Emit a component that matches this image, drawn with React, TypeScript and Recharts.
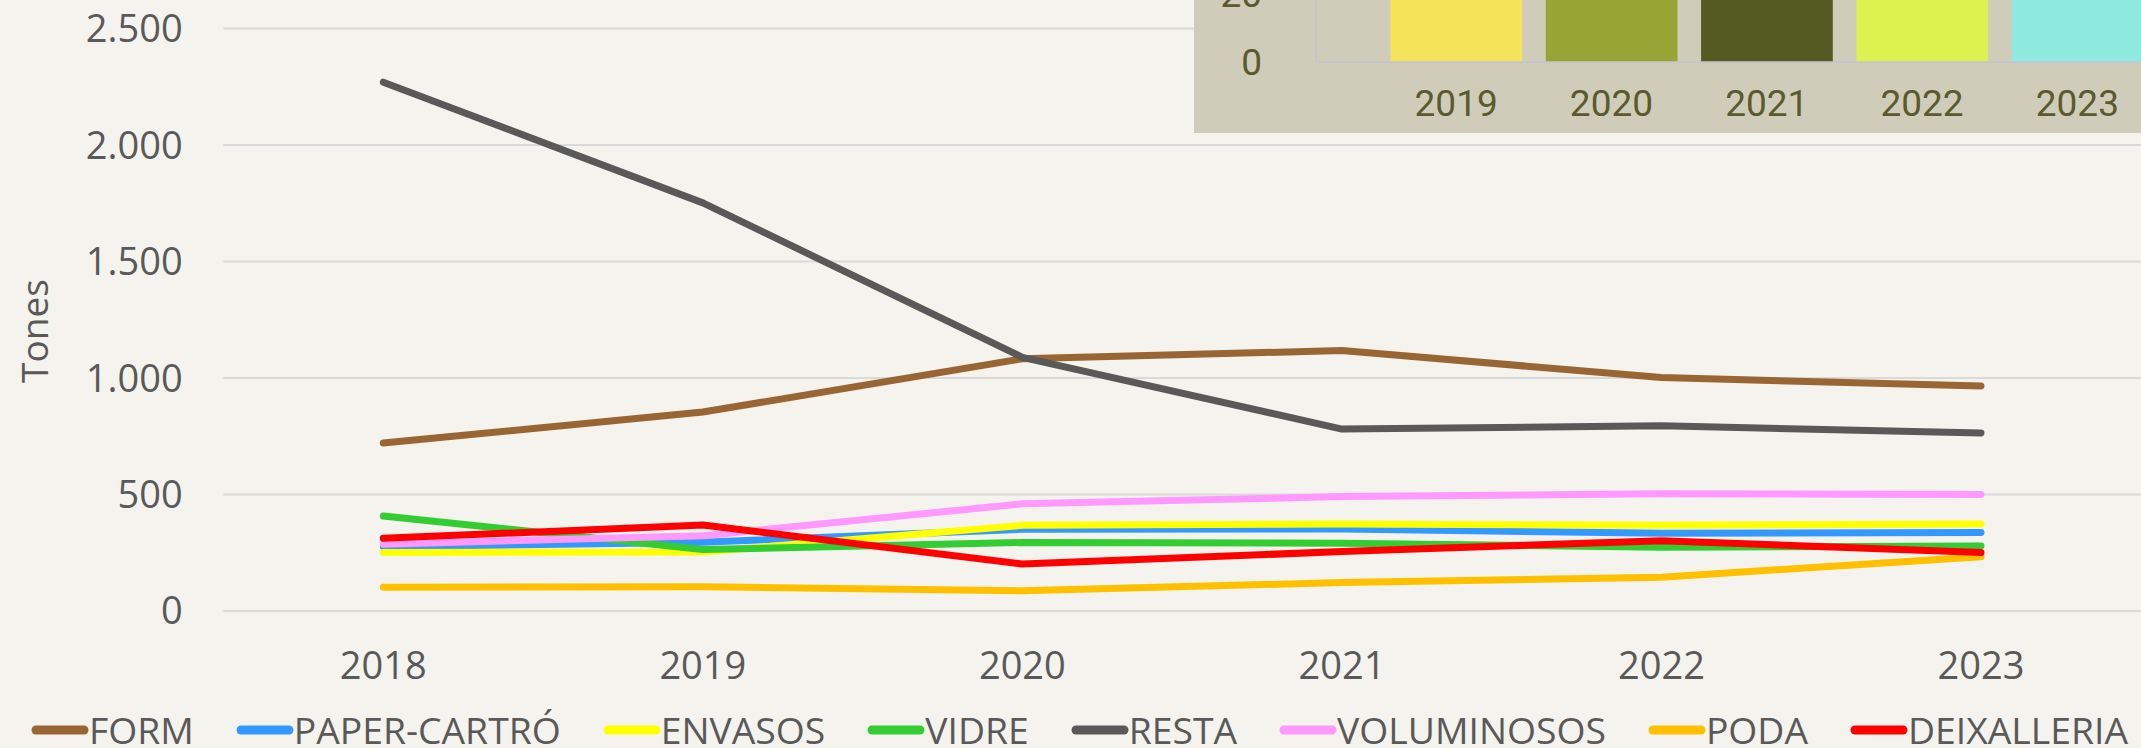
import { LineChart, Line, XAxis, YAxis, CartesianGrid, Legend, BarChart, Bar, Cell } from 'recharts'

const YEARS = ['2018', '2019', '2020', '2021', '2022', '2023']
const FORM = [721, 854, 1083, 1118, 1002, 966]
const PAPER_CARTRO = [276, 295, 351, 352, 334, 337]
const ENVASOS = [251, 253, 368, 373, 368, 373]
const VIDRE = [408, 264, 294, 291, 274, 279]
const RESTA = [2270, 1752, 1089, 781, 795, 764]
const VOLUMINOSOS = [287, 323, 460, 491, 503, 500]
const PODA = [102, 104, 87, 122, 145, 233]
const DEIXALLERIA = [312, 369, 202, 255, 302, 251]
const Y_TICKS = [0, 500, 1000, 1500, 2000, 2500]

// inset bar chart (top right, mostly cut off above the frame)
const INSET_YEARS = ['2019', '2020', '2021', '2022', '2023']
const INSET_VALUES = [42, 46, 44, 48, 45]
const INSET_COLORS = ['#F5E35A', '#98A535', '#545A22', '#DDF24F', '#8EEADF']
const INSET_TICKS = [0, 20, 40, 60, 80]

const SERIES = [
  { key: 'form', name: 'FORM', color: '#996633', values: FORM },
  { key: 'paper', name: 'PAPER-CARTRÓ', color: '#3399FF', values: PAPER_CARTRO },
  { key: 'envasos', name: 'ENVASOS', color: '#FFFF00', values: ENVASOS },
  { key: 'vidre', name: 'VIDRE', color: '#33CC33', values: VIDRE },
  { key: 'resta', name: 'RESTA', color: '#595959', values: RESTA },
  { key: 'voluminosos', name: 'VOLUMINOSOS', color: '#FF99FF', values: VOLUMINOSOS },
  { key: 'poda', name: 'PODA', color: '#FFC000', values: PODA },
  { key: 'deixalleria', name: 'DEIXALLERIA', color: '#FF0000', values: DEIXALLERIA },
]

const data = YEARS.map((year, i) => {
  const row: Record<string, string | number> = { year }
  SERIES.forEach((s) => {
    row[s.key] = s.values[i]
  })
  return row
})

const insetData = INSET_YEARS.map((year, i) => ({ year, value: INSET_VALUES[i] }))

const fmt = (v: number) => String(v).replace(/\B(?=(\d{3})+(?!\d))/g, '.')

const TEXT = '#595959'

function LegendRow() {
  return (
    <div
      style={{
        display: 'flex',
        alignItems: 'center',
        height: 40,
        marginTop: 10,
        paddingLeft: 31,
        gap: 42,
        fontFamily: 'Open Sans',
        fontSize: 37.3,
        lineHeight: '40px',
        color: TEXT,
        whiteSpace: 'nowrap',
      }}
    >
      {SERIES.map((s) => (
        <div key={s.key} style={{ display: 'flex', alignItems: 'center' }}>
          <svg width={58} height={12}>
            <line x1={5} y1={6} x2={53} y2={6} stroke={s.color} strokeWidth={9} strokeLinecap="round" />
          </svg>
          <span>{s.name}</span>
        </div>
      ))}
    </div>
  )
}

function TonesLabel() {
  return (
    <text
      x={33}
      y={331}
      transform="rotate(-90, 33, 331)"
      textAnchor="middle"
      dominantBaseline="central"
      fill={TEXT}
      fontSize={37}
      fontFamily="Open Sans"
    >
      Tones
    </text>
  )
}

export default function App() {
  return (
    <div
      style={{
        position: 'fixed',
        left: 0,
        top: 0,
        width: 2141,
        height: 748,
        overflow: 'hidden',
        background: '#F4F3ED',
      }}
    >
      <div style={{ position: 'absolute', left: 0, top: 0 }}>
        <LineChart width={2141} height={748} data={data} margin={{ top: 28.6, right: 0, bottom: 0, left: 0 }}>
          <CartesianGrid vertical={false} stroke="#DADADA" strokeWidth={2} />
          <XAxis
            dataKey="year"
            scale="point"
            padding={{ left: 160, right: 160 }}
            axisLine={false}
            tickLine={false}
            tickSize={0}
            tickMargin={41}
            height={89}
            tick={{ fill: TEXT, fontSize: 38, fontFamily: 'Open Sans' }}
          />
          <YAxis
            domain={[0, 2500]}
            ticks={Y_TICKS}
            tickFormatter={fmt}
            axisLine={false}
            tickLine={false}
            tickSize={0}
            tickMargin={40.6}
            width={223.3}
            tick={{ fill: TEXT, fontSize: 38, fontFamily: 'Open Sans' }}
            label={{ content: () => <TonesLabel /> }}
          />
          <Legend
            content={() => <LegendRow />}
            wrapperStyle={{ left: 0, top: 700, bottom: 'auto', width: 2141, height: 48 }}
          />
          {SERIES.map((s) => (
            <Line
              key={s.key}
              type="linear"
              dataKey={s.key}
              name={s.name}
              stroke={s.color}
              strokeWidth={7}
              strokeLinecap="round"
              strokeLinejoin="round"
              dot={false}
              activeDot={false}
              isAnimationActive={false}
            />
          ))}
        </LineChart>
      </div>

      <div
        style={{
          position: 'absolute',
          left: 1194,
          top: 132.7 - 400,
          width: 1000,
          height: 400,
          background: '#CFCCBA',
        }}
      >
        <BarChart width={1000} height={400} data={insetData} margin={{ top: 56, right: 0, bottom: 0, left: 0 }}>
          <XAxis
            dataKey="year"
            padding={{ left: 62.5, right: 39 }}
            axisLine={{ stroke: '#C6C5CC', strokeWidth: 2 }}
            tickLine={false}
            tickSize={0}
            tickMargin={27.4}
            height={70.7}
            tick={{ fill: '#5A5B2C', fontSize: 37, fontFamily: 'Roboto' }}
          />
          <YAxis
            domain={[0, 80]}
            ticks={INSET_TICKS}
            axisLine={{ stroke: '#C6C5CC', strokeWidth: 2 }}
            tickLine={false}
            tickSize={0}
            tickMargin={54}
            width={122}
            tick={{ fill: '#5A5B2C', fontSize: 37, fontFamily: 'Roboto' }}
          />
          <Bar dataKey="value" barSize={131.7} isAnimationActive={false}>
            {insetData.map((d, i) => (
              <Cell key={d.year} fill={INSET_COLORS[i]} />
            ))}
          </Bar>
        </BarChart>
      </div>
    </div>
  )
}
